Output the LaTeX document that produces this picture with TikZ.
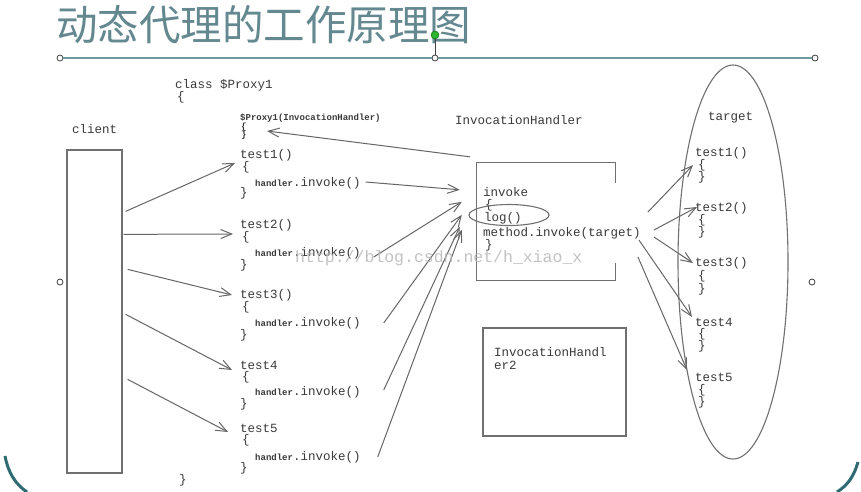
\documentclass[tikz,border=0pt]{standalone}
\usepackage{fontspec}
\usetikzlibrary{arrows.meta,shapes.geometric,calc}
\newfontfamily\cjk{Noto Sans CJK SC}
\newfontfamily\cmono{Liberation Mono}
\definecolor{txt}{HTML}{3A3A3A}
\definecolor{linec}{HTML}{666666}
\definecolor{boxc}{HTML}{707070}
\definecolor{titlec}{HTML}{648890}
\definecolor{tealline}{HTML}{6E989E}
\definecolor{tealarc}{HTML}{2F6B73}
\definecolor{handlegreen}{HTML}{2DB52D}
\newcommand{\hsmall}{\cmono\bfseries\fontsize{9}{10}\selectfont}
\tikzset{
  code/.style={font=\cmono\fontsize{12.5}{14}\selectfont, text=txt, inner sep=0pt, anchor=west},
  smallcode/.style={font=\hsmall, text=txt, inner sep=0pt, anchor=west},
  conn/.style={draw=linec, line width=1pt, -{Straight Barb[length=11pt,width=9pt]}},
  boxline/.style={draw=boxc, line width=1.3pt},
  handle/.style={circle, draw=black!75, fill=white, inner sep=0pt, minimum size=6pt, line width=0.8pt},
}
\begin{document}
\begin{tikzpicture}[x=1pt,y=-1pt]
\path[use as bounding box, fill=white] (0,0) rectangle (861,491);

% title
\node[font=\cjk\fontsize{41.5}{41.5}\selectfont, text=titlec, inner sep=0pt, anchor=base west] (title) at (56,40) {动态代理的工作原理图};
\node[handle] (hd1) at (60,58) {};
\node[handle] (hd2) at (435,58) {};
\node[handle] (hd3) at (815,58) {};
\node[handle] (hd4) at (60,282) {};
\node[handle] (hd5) at (812,282) {};
\node[circle, fill=handlegreen, draw=green!40!black, inner sep=0pt, minimum size=8pt] (gd) at (435,35) {};
\draw[tealline, line width=2.2pt] (hd1) -- (hd2) -- (hd3);
\draw[black!75, line width=0.9pt] (gd) -- (hd2);

% bottom frame arcs
\draw[tealarc, line width=3pt] (5,456) .. controls (8,472) and (15,484) .. (27,492);
\draw[tealarc, line width=3pt] (858,462) .. controls (854,476) and (848,485) .. (837,492);

% client
\node[code] (clientlbl) at (72,129) {client};
\node[boxline, draw, minimum width=55pt, minimum height=323pt, inner sep=0pt] (client) at (94.5,311.5) {};

% proxy class
\node[code] (cls) at (175,85) {class \$Proxy1};
\node[code] (clsopen) at (177,97) {\{};
\node[smallcode] (pc) at (240,118) {\$Proxy1(InvocationHandler)};
\node[smallcode] (pco) at (241,127) {\{};
\node[smallcode] (pcc) at (241,135) {\}};

\node[code] (t1) at (240,155) {test1()};
\node[code] (t1o) at (242,167) {\{};
\node[code] (h1) at (255,183) {{\hsmall handler}.invoke()};
\node[code] (t1c) at (240,193) {\}};

\node[code] (t2) at (240,225) {test2()};
\node[code] (t2o) at (242,237) {\{};
\node[code] (h2) at (255,253) {{\hsmall handler}.invoke()};
\node[code] (t2c) at (240,265) {\}};

\node[code] (t3) at (240,295) {test3()};
\node[code] (t3o) at (242,307) {\{};
\node[code] (h3) at (255,323) {{\hsmall handler}.invoke()};
\node[code] (t3c) at (240,335) {\}};

\node[code] (t4) at (240,365) {test4};
\node[code] (t4o) at (242,377) {\{};
\node[code] (h4) at (255,392) {{\hsmall handler}.invoke()};
\node[code] (t4c) at (240,404) {\}};

\node[code] (t5) at (240,428) {test5};
\node[code] (t5o) at (242,440) {\{};
\node[code] (h5) at (255,457) {{\hsmall handler}.invoke()};
\node[code] (t5c) at (240,468) {\}};

\node[code] (clsclose) at (179,480) {\}};

% invocation handler
\node[code] (ihlbl) at (455,120) {InvocationHandler};
\node[minimum width=138pt, minimum height=117pt, inner sep=0pt] (ih) at (546,221.5) {};
\draw[boxline] ($(ih.north east)+(0,20)$) -- (ih.north east) -- (ih.north west) -- (ih.south west) -- (ih.south east) -- ($(ih.south east)+(0,-17)$);
\node[code] (inv) at (483,192) {invoke};
\node[code] (invo) at (485,205) {\{};
\node[code] (logt) at (484,218) {log()};
\node[ellipse, draw=boxc, line width=1.1pt, minimum width=80pt, minimum height=21pt, inner sep=0pt] (logell) at (509,215) {};
\node[code] (m) at (483,233) {method.invoke(target)};
\node[code] (invc) at (485,245) {\}};

% second handler
\node[boxline, draw, minimum width=143pt, minimum height=108pt, inner sep=0pt] (ih2) at (554.5,382) {};
\node[code] (ih2a) at (494,352) {InvocationHandl};
\node[code] (ih2b) at (494,365) {er2};

% target
\node[ellipse, draw=boxc, line width=1.1pt, minimum width=110pt, minimum height=394pt, inner sep=0pt] (target) at (733,262) {};
\node[code] (tgtlbl) at (708,118) {target};
\node[code] (tt1) at (695,153) {test1()};
\node[code] (tt1o) at (698,165) {\{};
\node[code] (tt1c) at (698,177) {\}};
\node[code] (tt2) at (695,208) {test2()};
\node[code] (tt2o) at (698,220) {\{};
\node[code] (tt2c) at (698,232) {\}};
\node[code] (tt3) at (695,263) {test3()};
\node[code] (tt3o) at (698,276) {\{};
\node[code] (tt3c) at (698,289) {\}};
\node[code] (tt4) at (695,322) {test4};
\node[code] (tt4o) at (698,334) {\{};
\node[code] (tt4c) at (698,346) {\}};
\node[code] (tt5) at (695,377) {test5};
\node[code] (tt5o) at (698,390) {\{};
\node[code] (tt5c) at (698,402) {\}};

% client -> proxy methods
\draw[conn] ($(client.north east)+(3,62)$) -- ($(t1.west)+(-5,8)$);
\draw[conn] ($(client.north east)+(1,85)$) -- ($(t2.west)+(-7,9)$);
\draw[conn] ($(client.north east)+(5,120)$) -- ($(t3.west)+(-8,0)$);
\draw[conn] ($(client.north east)+(3,165)$) -- ($(t4.west)+(-8,5)$);
\draw[conn] ($(client.north east)+(5,230)$) -- ($(t5.west)+(-12,4)$);

% handler.invoke -> invoke
\draw[conn] ($(h1.east)+(5,-1)$) -- ($(ih.north west)+(-17,27)$);
\draw[conn] ($(h2.east)+(13,4)$) -- ($(ih.north west)+(-15,39)$);
\draw[conn] ($(h3.east)+(23,0)$) -- ($(ih.north west)+(-15,52)$);
\draw[conn] ($(h4.east)+(23,-2)$) -- ($(ih.north west)+(-17,64)$);
\draw[conn] ($(h5.east)+(17,0)$) -- ($(ih.north west)+(-15,67)$);

% InvocationHandler -> constructor
\draw[conn] ($(ih.north west)+(-7,-6)$) -- ($(pc.west)+(27,13)$);

% method.invoke -> target methods
\draw[conn] ($(m.east)+(7,-21)$) -- ($(tt1.west)+(-2,12)$);
\draw[conn] ($(m.east)+(13,-3)$) -- ($(tt2.west)+(2,-1)$);
\draw[conn] ($(m.east)+(13,4)$) -- ($(tt3.west)+(-2,0)$);
\draw[conn] ($(m.east)+(-2,7)$) -- ($(tt4.west)+(-3,-5)$);
\draw[conn] ($(m.east)+(-3,24)$) -- ($(tt5.west)+(-8,-7)$);

% watermark
\node[font=\cmono\fontsize{16.5}{18}\selectfont, text=black!28, inner sep=0pt, anchor=west, opacity=0.85] (wm) at (295,258) {http://blog.csdn.net/h\_xiao\_x};
\end{tikzpicture}
\end{document}
